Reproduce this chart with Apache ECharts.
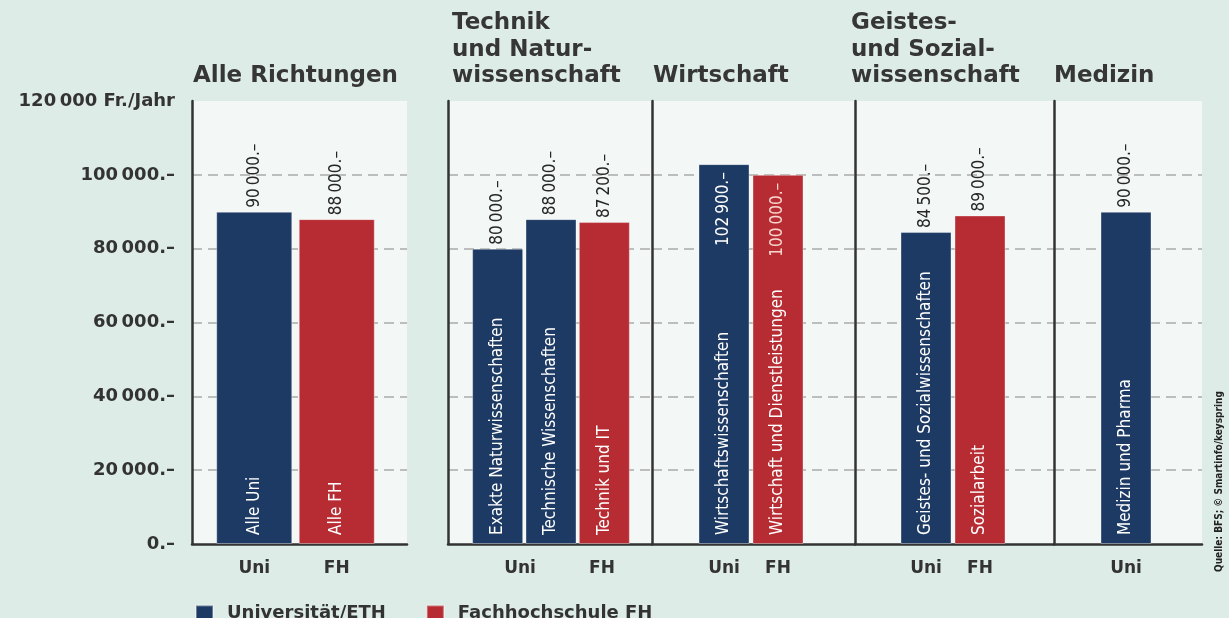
<!DOCTYPE html>
<html>
<head>
<meta charset="utf-8">
<script src="https://cdn.jsdelivr.net/npm/echarts@6/dist/echarts.min.js"></script>
<style>
  html, body { margin: 0; padding: 0; background: #deece7; }
  #chart { width: 1229px; height: 618px; }
</style>
</head>
<body>
<div id="chart"></div>
<script>
// section titles
const sectionTitles = ['Alle Richtungen', 'Technik\nund Natur-\nwissenschaft', 'Wirtschaft', 'Geistes-\nund Sozial-\nwissenschaft', 'Medizin'];

// bars per section
const allNames = ['Alle Uni', 'Alle FH'];
const allTypes = ['Uni', 'FH'];
const allValues = [90000, 88000];

const techNames = ['Exakte Naturwissenschaften', 'Technische Wissenschaften', 'Technik und IT'];
const techTypes = ['Uni', 'Uni', 'FH'];
const techValues = [80000, 88000, 87200];
const techGroups = ['Uni', 'FH'];

const wirtNames = ['Wirtschaftswissenschaften', 'Wirtschaft und Dienstleistungen'];
const wirtTypes = ['Uni', 'FH'];
const wirtValues = [102900, 100000];

const geistNames = ['Geistes- und Sozialwissenschaften', 'Sozialarbeit'];
const geistTypes = ['Uni', 'FH'];
const geistValues = [84500, 89000];

const medNames = ['Medizin und Pharma'];
const medTypes = ['Uni'];
const medValues = [90000];

const legendNames = ['Universität/ETH', 'Fachhochschule FH'];
const source = 'Quelle: BFS; © Smartinfo/keyspring';

const BLUE = '#1c3a63';
const RED = '#b72c33';
const PANEL = '#f3f7f6';
const INK = '#333333';
const NARROW = "'Liberation Sans Narrow','DejaVu Sans Condensed',sans-serif";
const BOLD = "'DejaVu Sans',sans-serif";
const TOP = 101, HEIGHT = 443;

const fmt = v => String(v).replace(/\B(?=(\d{3})+(?!\d))/g, '\u2009') + '.–';

const chart = echarts.init(document.getElementById('chart'));

const grids = [], xAxes = [], yAxes = [], series = [];

function yAx(idx, opts) {
  return Object.assign({
    type: 'value', gridIndex: idx, min: 0, max: 120000, interval: 20000,
    axisLine: { show: false }, axisTick: { show: false }, axisLabel: { show: false },
    splitLine: { show: false }
  }, opts || {});
}

// frame panels (background, axis lines, dashed grid)
const frames = [[192, 215], [448, 204], [652, 203], [855, 199], [1054, 148]];
frames.forEach(([l, w], i) => {
  const g = grids.length;
  grids.push({ left: l, top: TOP, width: w, height: HEIGHT, show: true, backgroundColor: PANEL, borderWidth: 0 });
  xAxes.push({
    type: 'category', gridIndex: g, data: [''],
    axisLine: { show: true, lineStyle: { color: INK, width: 2.5 } },
    axisTick: { show: false }, axisLabel: { show: false }
  });
  yAxes.push(yAx(g, {
    axisLine: { show: true, onZero: false, lineStyle: { color: INK, width: 2.5 } },
    splitLine: { show: true, showMaxLine: false, showMinLine: false, lineStyle: { color: '#a9acab', width: 1.5, type: [10, 6] } },
    axisLabel: i === 0 ? {
      show: true, margin: 17, color: INK, fontFamily: BOLD, fontWeight: 'bold', fontSize: 18,
      formatter: v => v === 120000 ? '120\u2009000 Fr./Jahr' : fmt(v)
    } : { show: false }
  }));
});

const catLabel = { show: true, margin: 16, color: INK, fontFamily: BOLD, fontWeight: 'bold', fontSize: 17, interval: 0 };

function addBars(left, width, names, types, values, barWidth, showLabels) {
  const g = grids.length;
  grids.push({ left: left, top: TOP, width: width, height: HEIGHT });
  xAxes.push({
    type: 'category', gridIndex: g, data: showLabels ? types : names,
    axisLine: { show: false }, axisTick: { show: false },
    axisLabel: showLabels ? catLabel : { show: false }
  });
  yAxes.push(yAx(g, { show: false }));
  // value label above the bar, or inside its top when the bar is too tall
  const valueItem = (v, color) => {
    const inside = v >= 95000;
    return {
      value: v,
      label: {
        show: true, rotate: 90, verticalAlign: 'middle',
        position: inside ? 'insideTop' : 'top',
        align: inside ? 'right' : 'left',
        distance: inside ? 8 : 4,
        color: inside ? (color === RED ? '#f7d6cf' : '#ffffff') : '#262626',
        fontFamily: NARROW, fontSize: 17,
        formatter: p => fmt(p.value)
      }
    };
  };
  [['Uni', BLUE, legendNames[0]], ['FH', RED, legendNames[1]]].forEach(([t, c, n]) => {
    if (!types.includes(t)) return;
    series.push({
      type: 'bar', name: n, xAxisIndex: g, yAxisIndex: g, barWidth: barWidth, barGap: '-100%',
      itemStyle: { color: c, borderColor: 'rgba(255,255,255,0.35)', borderWidth: 1 },
      data: values.map((v, i) => types[i] === t ? valueItem(v, c) : '-')
    });
  });
  // transparent twin carrying the names written inside the bars
  series.push({
    type: 'bar', name: 'labels' + g, xAxisIndex: g, yAxisIndex: g, barWidth: barWidth, barGap: '-100%',
    silent: true, itemStyle: { color: 'rgba(0,0,0,0)' }, z: 3,
    label: {
      show: true, position: 'insideBottom', rotate: 90, align: 'left', verticalAlign: 'middle',
      distance: 9, color: '#ffffff', fontFamily: NARROW, fontSize: 17,
      formatter: p => names[p.dataIndex]
    },
    data: values
  });
  return g;
}

addBars(213, 165, allNames, allTypes, allValues, 76, true);
addBars(471, 160, techNames, techTypes, techValues, 51, false);
// group labels under the Technik bars
(function () {
  const g = grids.length;
  grids.push({ left: 479, top: TOP, width: 164, height: HEIGHT });
  xAxes.push({ type: 'category', gridIndex: g, data: techGroups, axisLine: { show: false }, axisTick: { show: false }, axisLabel: catLabel });
  yAxes.push(yAx(g, { show: false }));
})();
addBars(697, 108, wirtNames, wirtTypes, wirtValues, 51, true);
addBars(899, 108, geistNames, geistTypes, geistValues, 51, true);
addBars(1099, 54, medNames, medTypes, medValues, 51, true);

const titleTops = [63, 10, 63, 10, 63];
const titleLefts = [193, 452, 653, 851, 1054];

chart.setOption({
  backgroundColor: '#deece7',
  animation: false,
  title: sectionTitles.map((t, i) => ({
    text: t, left: titleLefts[i], top: titleTops[i], padding: 0,
    textStyle: { fontFamily: BOLD, fontWeight: 'bold', fontSize: 23, color: '#363636', lineHeight: 26.5 }
  })),
  legend: {
    data: legendNames, left: 190, top: 599, itemWidth: 17, itemHeight: 15, itemGap: 40, icon: 'rect',
    textStyle: { fontFamily: BOLD, fontWeight: 'bold', fontSize: 18, color: INK, padding: [0, 0, 0, 9] }
  },
  grid: grids,
  xAxis: xAxes,
  yAxis: yAxes,
  series: series,
  graphic: [{
    type: 'text', x: 1219, y: 572, rotation: Math.PI / 2,
    style: { text: source, font: 'bold 10px ' + NARROW, fill: '#222', textAlign: 'left', textVerticalAlign: 'middle' }
  }]
});
</script>
</body>
</html>
